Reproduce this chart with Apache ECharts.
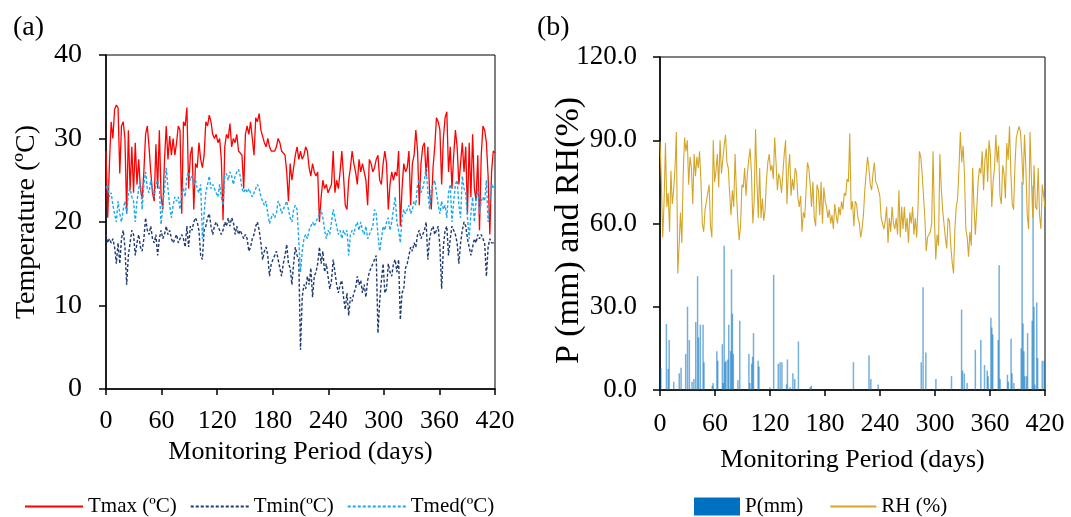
<!DOCTYPE html>
<html>
<head>
<meta charset="utf-8">
<script src="https://cdn.jsdelivr.net/npm/echarts@6/dist/echarts.min.js"></script>
<style>
  html, body { margin: 0; padding: 0; background: #fff; }
  #chart { width: 1071px; height: 517px; }
</style>
</head>
<body>
<div id="chart"></div>
<script>
// daily series, evenly spread over the 0-420 day period
const tmax = [
  28.5,20.5,27,32,30,33.5,34,33.7,25.8,31.5,
  32,30,21,31,23.8,29,23.5,29.5,24.5,27.5,
  24,22.8,26,30.5,31.5,29,26,23.5,22.5,29.3,
  24,31,23,21.5,27.5,31.5,27.5,30.3,28,30,
  28,29.5,31.5,31,21,32,31.5,33.7,24,28,
  29,21.5,27,26.5,29.5,27.5,26.5,28,32,31.5,
  32.8,32,30.5,30,30.5,29.5,30,27.5,20.2,29,
  30.5,30,31.8,29,30,29.5,30.5,28.5,28.5,28,
  24,30.5,31.5,30.5,32,30,28,32.5,32,33,
  31,31,29.5,29,30,29,28.5,28.5,28.5,29,
  30,29.5,28.5,28.5,28,26,22.5,27,25,26.5,
  28,29,27.5,28.5,27.5,28,29,28.5,26.5,25.5,
  27,26,25.5,26,20,23,25,24,24.5,23.5,
  24,24.5,28.5,23.5,25,24,26,28.5,25.5,22,
  21.5,25,26.5,28.5,27,26,24.5,27.5,26,27,
  26,25,22,27.5,27,26,26.5,27.5,28,25,
  24.5,27,28.5,27,21.5,24.5,26,25,26,25.5,
  28.5,19.5,24,27,26,26.5,28.5,22,27,28,
  31,28.5,22,27,29,29.5,25.5,29,23.5,21.5,
  26.5,29,32.5,32,31,24.5,30,32.5,33.2,26,
  29,24,28,31,29,24.5,27,29.5,26,29,
  21,29.5,23,30.5,24,22.5,28,19,28,31.5,
  31,29.5,25.5,18.5,26,28.5,28.3
];

const tmin = [
  18.5,17.5,18,17.5,18,17,15,17.5,15,18,
  19,17,12.5,16,17.5,19,18.5,16,17.5,18.5,
  17,16.5,18,20.5,19,18.5,19.5,18,17.5,18.5,
  16,18,19,18,18.5,19.5,18.5,19,18,17.5,
  18,18.5,17.5,18,18.5,18,17,19.5,17,19.5,
  19,20,20.5,20,19,16,15.5,19,19.5,20.5,
  21,19.5,18.5,19.5,20,19.5,19,18.5,19,20,
  19.5,20.5,19.5,20.5,20,18.5,19.5,18.5,19,19,
  18,18.5,18,16.5,17,18,18.5,19.5,20,19,
  17.5,15.5,16.5,17,16,13.5,15,15.5,16,16.5,
  15.5,14.5,13.5,15,16,17.3,15,14.5,12.5,15,
  17,16,15.5,4.7,11,12.5,12,13.5,12.5,14.5,
  11,13.5,14,15,17,15,16.5,14,15,13.5,
  12,13,15.5,14,12.5,11.5,12.5,13,11,9.5,
  11.5,8.8,11,10.5,11.5,12,13.5,12.5,13,11.5,
  12.5,11,13,14,14.5,15,15.5,16,6.7,10.5,
  13,15,11.5,12,15,14,13.5,15,15.5,14,
  15.5,8.3,11.5,12,14.5,15,16,17,16.5,17.5,
  17,18.5,19,18,18.5,19,20,15.5,18,19,
  19.5,18.5,19,19.5,17,12,17,19,19.5,16,
  18,19.5,19,18.5,17.5,15,17.5,19,20,19.5,
  18,17,16,17,18,17.5,18.5,18,18.5,18,
  17.5,13.5,17,18,17.5,17.5,17.5
];

const tmed = [
  24,24.5,23,23.5,22,21,20,22.5,21,20,
  21.5,22.5,21,23.5,24,23,22.5,20,22.5,24,
  25,21.5,24.5,26,24,23.5,25,24,23,24.5,
  25,24,19.7,22,24,26.5,24,22,20.5,22,
  23,22.5,23,21.5,23.5,24,23,25.5,26,25,
  25.5,24.5,25,24,23.5,24.5,18,21,23.5,24.5,
  25.5,24,24.5,24,24,23,24.5,23,22,25.5,
  25.8,25,26,25.5,24.5,25.5,26,26.3,25.5,24,
  23.5,24,23.5,24,23.5,23,23,24,24.5,24,
  23,22.5,22,22.5,21,19.8,20.5,21,20.5,21,
  22.5,22,21,21.5,22,22.5,21.5,20.5,20,21.5,
  22,21.5,21.5,14,16.5,18,18.5,18,19,19,
  20,19.5,20,20.5,21,21.5,20.5,19,18,19,
  18.5,20,21.5,20.5,19.5,18.5,19,18,19,18.5,
  19,16,18.5,19,18.5,19.5,20,19,20,19,
  18.5,19.5,18,18.5,19,19.5,21.5,21,18.5,16.5,
  18,19.5,19,20,20.5,19,20,21.5,23,20,
  19,17.5,20.5,21.5,21,21.5,22,21,21.5,22.5,
  22,24.5,25,23.5,24,25,26.5,23.5,21.5,24,
  24.5,25,23.5,22,21,22.5,21.5,22,20.5,23.5,
  24.5,20,22.5,24.5,25,22,20.5,25.5,24,23.5,
  20.5,18,21,23,20,22.5,24,21,22.5,23,
  22.5,25,20,22.5,24.5,24,24.5
];

const rh = [
  89.5,75,55,68,89,66,71,57,79,67,
  72,80,93,42,52,64,53,78,91,86,
  90,74,84,80,67,85,77,84,80,86,
  75,60,57,65,68,71,74,59,55,90,
  75,79,85,73,90,78,83,88,92,82,
  80,71,63,72,66,85,71,61,54,59,
  74,73,80,70,78,83,87,78,60,68,
  94,75,62,80,62,69,61,65,76,82,
  85,79,81,76,91,82,72,78,76,71,
  78,85,90,67,79,85,70,76,72,80,
  78,69,66,70,57,64,62,72,82,80,
  74,66,75,62,59,74,72,63,75,60,
  73,68,66,62,65,60,63,58,67,63,
  60,66,63,68,65,71,70,76,75,92.5,
  65,68,59,68,67,62,60,55,58,63,
  72,78,84,80,74,72,78,82,75,74,
  72,70,62,60,58,61,66,53,62,57,
  66,60,58,62,56,72,55,66,58,66,
  57,62,53,64,60,66,56,62,55,66,
  86,84,78,70,62,50,55,55,57,60,
  86,62,47,56,52,85,73,65,60,55,
  51,62,61,52,46,42,58,66,69,80,
  93,82,88,78,58,55,48,57,52,80,
  66,56,65,75,80,78,86,72,83,87,
  75,90,85,66,75,80,92,82,88,70,
  67,81,78,69,89,83,95,78,67,65,
  81,91,93,95,93,85,74,92,80,63,
  58,93,77,62,81,66,65,80,63,58,
  74,70,66
];

// rainy days only (day number, mm)
const rainDays = [
  1,7,9,10,15,21,23,28,30,32,
  35,37,39,41,42,44,47,48,57,58,
  62,63,68,69,70,71,72,74,75,77,
  78,79,80,85,87,97,98,100,101,102,
  107,108,120,124,129,131,133,138,139,142,
  145,147,151,164,165,211,228,230,238,285,
  287,290,301,308,318,329,330,332,335,344,
  350,354,357,358,361,362,363,369,370,371,
  379,380,383,384,386,391,394,395,396,397,
  398,400,401,406,407,408,409,411,412,417,
  419
];
const rainMm = [
  7.8,23.8,7.6,18,3,6,8,13,30,18,
  3,4,24.5,41,19,23.5,23.5,10,1.5,2.5,
  14,10.5,16.5,2.5,52,10,10.5,11,23.5,14,
  43.5,27.5,13,3.5,25,13,2.5,9.5,12,20.5,
  10.5,8.5,1,41.5,9.5,10,10,2,11,1,
  6,4,17.5,1,1.5,10,12.5,4,2,10,
  37,13.5,4,0.5,5,29,7,6,2.5,14.5,
  18,9,7,5,26,22.5,20,18,45,4,
  5.5,3,18.5,6,2.5,0.5,15,75,24,14,
  5,5,20.5,25,73.5,30,2,31.5,11.5,10.5,
  10.5
];

const dayTicks = [0, 60, 120, 180, 240, 300, 360, 420];

const serif = "'Liberation Serif', 'Times New Roman', serif";

// spread each daily list evenly over the period
function overPeriod(arr) {
  const last = dayTicks[dayTicks.length - 1];
  return arr.map((v, i) => [i * last / (arr.length - 1), v]);
}

var chart = echarts.init(document.getElementById("chart"));

function dayAxis(idx, labelMargin, nameGap) {
  return {
    type: "value",
    gridIndex: idx,
    min: dayTicks[0],
    max: dayTicks[dayTicks.length - 1],
    interval: dayTicks[1] - dayTicks[0],
    name: "Monitoring Period (days)",
    nameLocation: "middle",
    nameGap: nameGap,
    nameTextStyle: { fontFamily: serif, fontSize: 26, color: "#000" },
    axisLine: { lineStyle: { color: "#000", width: 1.5 } },
    axisTick: { length: 6, lineStyle: { color: "#000", width: 1.5 } },
    axisLabel: { margin: labelMargin, fontFamily: serif, fontSize: 26, color: "#000" },
    splitLine: { show: false }
  }
}

// line legend items: hide the marker, keep only the stroke
const noMarker = { opacity: 0 };

var option = {
  backgroundColor: "#fff",
  animation: false,
  title: [
    { text: "(a)", left: 8, top: 9, textStyle: { fontFamily: serif, fontSize: 28, fontWeight: "normal", color: "#000" } },
    { text: "(b)", left: 532, top: 9, textStyle: { fontFamily: serif, fontSize: 28, fontWeight: "normal", color: "#000" } }
  ],
  grid: [
    { left: 106, right: 576, top: 55, bottom: 128, show: true, borderColor: "#000", borderWidth: 1 },
    { left: 660, right: 26, top: 57, bottom: 127, show: true, borderColor: "#000", borderWidth: 1 }
  ],
  xAxis: [
    dayAxis(0, 19, 50),
    dayAxis(1, 21, 57)
  ],
  yAxis: [
    {
      type: "value",
      gridIndex: 0,
      min: 0, max: 40, interval: 10,
      name: "Temperature (ºC)",
      nameLocation: "middle",
      nameGap: 65,
      nameTextStyle: { fontFamily: serif, fontSize: 28, color: "#000" },
      axisLine: { show: true, lineStyle: { color: "#000", width: 1.5 } },
      axisTick: { show: true, length: 7, lineStyle: { color: "#000", width: 1.5 } },
      axisLabel: { margin: 24, fontFamily: serif, fontSize: 28, color: "#000" },
      splitLine: { show: false }
    },
    {
      type: "value",
      gridIndex: 1,
      min: 0, max: 120, interval: 30,
      name: "P (mm) and RH(%)",
      nameLocation: "middle",
      nameGap: 74,
      nameMoveOverlap: false,
      nameTextStyle: { fontFamily: serif, fontSize: 34, color: "#000", padding: [0, 14, 0, 0] },
      axisLine: { show: true, lineStyle: { color: "#000", width: 1.5 } },
      axisTick: { show: true, length: 7, lineStyle: { color: "#000", width: 1.5 } },
      axisLabel: { margin: 23, fontFamily: serif, fontSize: 27, color: "#000", formatter: v => v.toFixed(1) },
      splitLine: { show: false }
    }
  ],
  legend: [
    {
      left: 19, top: 491,
      itemWidth: 58, itemHeight: 12, itemGap: 13,
      itemStyle: noMarker,
      textStyle: { fontFamily: serif, fontSize: 21, color: "#000" },
      data: ["Tmax (ºC)", "Tmin(ºC)", "Tmed(ºC)"]
    },
    {
      left: 689, top: 491,
      itemWidth: 46, itemHeight: 18, itemGap: 26,
      textStyle: { fontFamily: serif, fontSize: 21, color: "#000" },
      data: [
        { name: "P(mm)", icon: "rect", itemStyle: { opacity: 1 } },
        { name: "RH (%)", itemStyle: noMarker }
      ]
    }
  ],
  series: [
    {
      name: "Tmax (ºC)", type: "line", xAxisIndex: 0, yAxisIndex: 0,
      data: overPeriod(tmax), symbol: "none", color: "#ff0000",
      lineStyle: { color: "#ff0000", width: 1.3 }
    },
    {
      name: "Tmin(ºC)", type: "line", xAxisIndex: 0, yAxisIndex: 0,
      data: overPeriod(tmin), symbol: "none", color: "#1f3a6e",
      lineStyle: { color: "#1f3a6e", width: 1.4, type: [3, 2] }
    },
    {
      name: "Tmed(ºC)", type: "line", xAxisIndex: 0, yAxisIndex: 0,
      data: overPeriod(tmed), symbol: "none", color: "#1aa9ef",
      lineStyle: { color: "#1aa9ef", width: 1.4, type: [3, 2] }
    },
    {
      name: "P(mm)", type: "bar", xAxisIndex: 1, yAxisIndex: 1,
      data: rainDays.map((d, i) => [d, rainMm[i]]),
      barWidth: 1.5, color: "#0070c0",
      itemStyle: { color: "#0070c0", opacity: 0.55 }
    },
    {
      name: "RH (%)", type: "line", xAxisIndex: 1, yAxisIndex: 1,
      data: overPeriod(rh), symbol: "none", color: "#d4a52a",
      lineStyle: { color: "#d4a52a", width: 1.1 }
    }
  ]
}

chart.setOption(option)
</script>
</body>
</html>
